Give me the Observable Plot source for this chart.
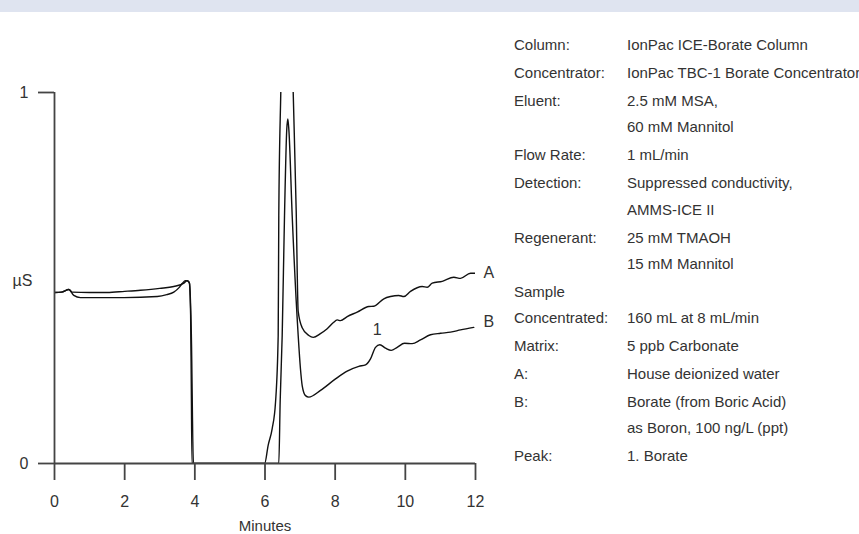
<!DOCTYPE html>
<html><head><meta charset="utf-8">
<script src="https://cdn.jsdelivr.net/npm/d3@7"></script>
<script src="https://cdn.jsdelivr.net/npm/@observablehq/plot@0.6"></script>
<style>
html,body{margin:0;padding:0;background:#fff;}
body{width:859px;height:534px;position:relative;overflow:hidden;font-family:"Liberation Sans",Arial,sans-serif;color:#333;}
#band{position:absolute;left:0;top:0;width:859px;height:12px;background:#dfe4f0;}
#chart{position:absolute;left:0;top:12px;}
#panel{position:absolute;left:514px;top:32px;font-size:15px;line-height:26.3px;white-space:nowrap;}
.entry{display:grid;grid-template-columns:113px auto;margin-bottom:1.7px;}
.entry .v{align-self:end;}
</style></head><body>
<div id="band"></div>
<div id="chart"></div>
<div id="panel"></div>
<script>
// Trace A (time in minutes, signal in µS)
const timeA = [0, 0.2, 0.41, 0.5, 1.0, 1.5, 2.0, 2.45, 3.0, 3.4, 3.69, 3.78, 3.84, 3.88, 3.90, 3.92, 5.99, 6.09, 6.205, 6.30, 6.376, 6.393, 6.45, 6.55, 6.62, 6.70, 6.804, 6.889, 6.946, 7.06, 7.249, 7.374, 7.58, 7.773, 7.95, 8.058, 8.152, 8.343, 8.628, 8.959, 9.101, 9.387, 9.577, 9.814, 9.957, 10.147, 10.481, 10.623, 10.766, 11.051, 11.382, 11.573, 11.858, 12.0];
const signalA = [0.461, 0.462, 0.469, 0.462, 0.461, 0.461, 0.464, 0.467, 0.472, 0.477, 0.486, 0.493, 0.488, 0.40, 0.20, 0.0, 0.0, 0.049, 0.094, 0.165, 0.345, 0.668, 1.0, 1.4, 1.6, 1.4, 1.0, 0.682, 0.410, 0.366, 0.345, 0.340, 0.350, 0.363, 0.380, 0.387, 0.385, 0.396, 0.408, 0.423, 0.424, 0.444, 0.450, 0.453, 0.450, 0.464, 0.477, 0.475, 0.486, 0.491, 0.502, 0.499, 0.513, 0.513];
// Trace B
const timeB = [0, 0.2, 0.41, 0.55, 0.74, 1.98, 2.93, 3.2, 3.40, 3.55, 3.64, 3.73, 3.80, 3.85, 3.90, 3.96, 6.393, 6.433, 6.49, 6.556, 6.62, 6.65, 6.68, 6.775, 6.946, 7.01, 7.06, 7.154, 7.249, 7.582, 8.01, 8.343, 8.674, 8.865, 9.007, 9.15, 9.273, 9.435, 9.597, 9.768, 9.976, 10.196, 10.432, 10.717, 11.003, 11.288, 11.573, 11.95];
const signalB = [0.461, 0.462, 0.469, 0.453, 0.447, 0.447, 0.450, 0.455, 0.462, 0.474, 0.485, 0.493, 0.492, 0.485, 0.35, 0.0, 0.0, 0.17, 0.345, 0.668, 0.90, 0.929, 0.90, 0.668, 0.345, 0.256, 0.21, 0.183, 0.179, 0.197, 0.228, 0.249, 0.262, 0.266, 0.282, 0.313, 0.320, 0.311, 0.305, 0.313, 0.324, 0.323, 0.333, 0.347, 0.351, 0.354, 0.360, 0.367];

const traceNames = ["A", "B"];
const traceLabelTime = [12, 12];
const traceLabelSignal = [0.513, 0.381];

const peakNumbers = ["1"];
const peakLabelTime = [9.2];
const peakLabelSignal = [0.361];

const xTicks = [0, 2, 4, 6, 8, 10, 12];
const yTicks = [0, 1];
const xAxisTitle = "Minutes";
const yAxisTitle = "µS";

const condLabels = ["Column:", "Concentrator:", "Eluent:", "Flow Rate:", "Detection:", "Regenerant:", "Sample\nConcentrated:", "Matrix:", "A:", "B:", "Peak:"];
const condValues = ["IonPac ICE-Borate Column", "IonPac TBC-1 Borate Concentrator", "2.5 mM MSA,\n60 mM Mannitol", "1 mL/min", "Suppressed conductivity,\nAMMS-ICE II", "25 mM TMAOH\n15 mM Mannitol", "160 mL at 8 mL/min", "5 ppb Carbonate", "House deionized water", "Borate (from Boric Acid)\nas Boron, 100 ng/L (ppt)", "1. Borate"];

const data = [
  ...timeA.map((t, i) => ({t, v: signalA[i], s: "A"})),
  ...timeB.map((t, i) => ({t, v: signalB[i], s: "B"}))
];
const traceLabels = traceNames.map((n, i) => ({n, t: traceLabelTime[i], v: traceLabelSignal[i]}));
const peakLabels = peakNumbers.map((n, i) => ({n, t: peakLabelTime[i], v: peakLabelSignal[i]}));

const axisColor = "#444";
const fs = 16;
const plot = Plot.plot({
  width: 500, height: 522,
  marginLeft: 54, marginRight: 25, marginTop: 80, marginBottom: 71,
  style: {fontFamily: '"Liberation Sans", Arial, sans-serif', fontSize: "16px", color: "#333", background: "transparent", overflow: "visible"},
  x: {domain: [0, 12]},
  y: {domain: [0, 1]},
  marks: [
    Plot.line(data, {x: "t", y: "v", z: "s", stroke: "#111", strokeWidth: 1.4, curve: "monotone-x", clip: true}),
    Plot.ruleY([0], {stroke: axisColor, strokeWidth: 1.8}),
    Plot.ruleX([0], {stroke: axisColor, strokeWidth: 1.8}),
    Plot.axisX({ticks: xTicks, tickSize: 17, tickPadding: 15, stroke: axisColor, strokeWidth: 1.8, label: null, fontSize: fs, tickFormat: d => String(d)}),
    Plot.axisY({ticks: yTicks, tickSize: 16, tickPadding: 10, stroke: axisColor, strokeWidth: 1.8, label: null, fontSize: fs, tickFormat: d => String(d)}),
    Plot.text([xAxisTitle], {frameAnchor: "bottom", dy: 67, fill: "#333", fontSize: 15}),
    Plot.text([yAxisTitle], {frameAnchor: "left", textAnchor: "middle", dx: -32, dy: 3, fill: "#333", fontSize: fs}),
    Plot.text(traceLabels, {x: "t", y: "v", text: "n", dx: 8, textAnchor: "start", fill: "#333", fontSize: fs}),
    Plot.text(peakLabels, {x: "t", y: "v", text: "n", fill: "#333", fontSize: fs})
  ]
});
document.getElementById("chart").appendChild(plot);

const panel = document.getElementById("panel");
condLabels.forEach((lab, i) => {
  const e = document.createElement("div");
  e.className = "entry";
  const l = document.createElement("div");
  l.className = "l";
  lab.split("\n").forEach((line, j) => { if (j) l.appendChild(document.createElement("br")); l.appendChild(document.createTextNode(line)); });
  const v = document.createElement("div");
  v.className = "v";
  condValues[i].split("\n").forEach((line, j) => { if (j) v.appendChild(document.createElement("br")); v.appendChild(document.createTextNode(line)); });
  e.appendChild(l); e.appendChild(v);
  panel.appendChild(e);
});
</script>
</body></html>
